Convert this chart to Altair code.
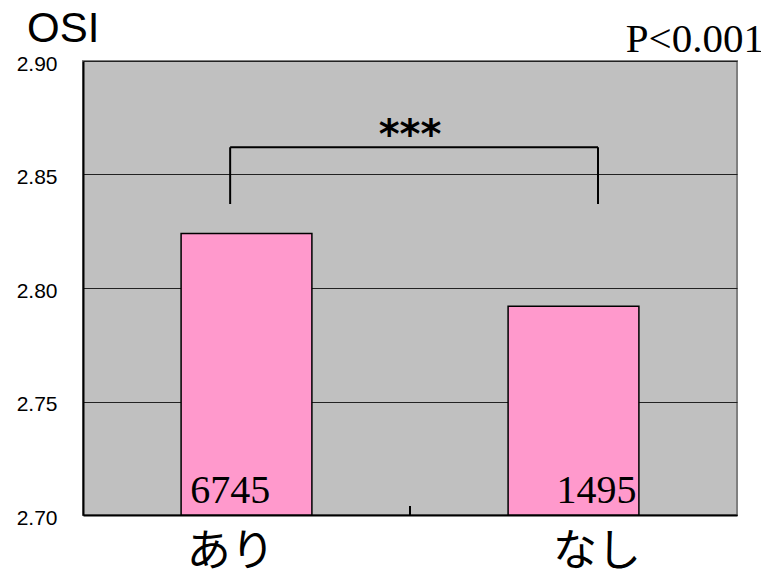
import altair as alt
import pandas as pd

categories = ["あり", "なし"]
means = [2.824, 2.792]
counts = [6745, 1495]
label_pos = [0.45, 1.57]          # where the category / count labels are centred
y_ticks = [2.70, 2.75, 2.80, 2.85, 2.90]
bracket_top = 2.862
bracket_bottom = 2.837
stars = "***"

df = pd.DataFrame({"cat": categories, "mean": means, "n": [str(c) for c in counts],
                   "idx": [0, 1], "lp": label_pos})

W, H = 654, 454
xs = alt.Scale(domain=[0, 2], nice=False, zero=False)
ys = alt.Scale(domain=[2.70, 2.90], nice=False, zero=False)

label_expr = ("datum.value < 1 ? '" + categories[0] + "' : '" + categories[1] + "'")

base = alt.Chart(df)

bars = base.transform_calculate(
    x0="datum.idx + 0.3", x1="datum.idx + 0.7"
).mark_bar(fill="#FF99CC", stroke="black", strokeWidth=1.5).encode(
    x=alt.X("x0:Q", scale=xs, axis=alt.Axis(
        values=label_pos, labelExpr=label_expr, title=None, grid=False, ticks=False,
        domainColor="black", domainWidth=2, labelFontSize=44,
        labelFont="Noto Sans CJK JP", labelColor="black", labelPadding=15,
        labelBaseline="top")),
    x2="x1:Q",
    y=alt.Y("mean:Q", scale=ys, axis=alt.Axis(
        values=y_ticks, format=".2f", title=None, grid=True, gridColor="#222222",
        gridWidth=1, ticks=False, domainColor="black", domainWidth=2,
        labelFontSize=21, labelFont="Liberation Sans", labelColor="black",
        labelPadding=26, labelOffset=3)),
    y2=alt.datum(2.70),
)

count_text = base.transform_calculate(base_y="2.70").mark_text(
    font="Liberation Serif", fontSize=40, baseline="alphabetic", dy=-12, color="black"
).encode(
    x=alt.X("lp:Q", scale=xs),
    y=alt.Y("base_y:Q", scale=ys),
    text="n:N",
)

br = pd.DataFrame({"x": [label_pos[0]], "x2": [1.575], "top": [bracket_top],
                   "bottom": [bracket_bottom]})
brc = alt.Chart(br)
h_line = brc.mark_rule(color="black", strokeWidth=2).encode(
    x=alt.X("x:Q", scale=xs), x2="x2:Q", y=alt.Y("top:Q", scale=ys))
v_left = brc.mark_rule(color="black", strokeWidth=2).encode(
    x=alt.X("x:Q", scale=xs), y=alt.Y("top:Q", scale=ys), y2="bottom:Q")
v_right = brc.mark_rule(color="black", strokeWidth=2).encode(
    x=alt.X("x2:Q", scale=xs), y=alt.Y("top:Q", scale=ys), y2="bottom:Q")

star_df = pd.DataFrame({"x": [1.0], "y": [2.869], "t": [stars]})
star_text = alt.Chart(star_df).mark_text(
    font="DejaVu Sans", fontSize=40, fontWeight="bold", baseline="middle", dy=5,
    color="black"
).encode(x=alt.X("x:Q", scale=xs), y=alt.Y("y:Q", scale=ys), text="t:N")

mid_tick_df = pd.DataFrame({"x": [1.0], "y": [2.70], "y2": [2.704]})
mid_tick = alt.Chart(mid_tick_df).mark_rule(color="black", strokeWidth=2).encode(
    x=alt.X("x:Q", scale=xs), y=alt.Y("y:Q", scale=ys), y2="y2:Q")

osi = alt.Chart(pd.DataFrame({"t": ["OSI"]})).mark_text(
    font="Liberation Sans", fontSize=42, align="left", baseline="alphabetic",
    color="black"
).encode(x=alt.value(-56), y=alt.value(-19), text="t:N")

pval = alt.Chart(pd.DataFrame({"t": ["P<0.001"]})).mark_text(
    font="Liberation Serif", fontSize=41, align="right", baseline="alphabetic",
    color="black"
).encode(x=alt.value(W + 27), y=alt.value(-9), text="t:N")

chart = alt.layer(
    bars, count_text, h_line, v_left, v_right, star_text, mid_tick, osi, pval
).properties(
    width=W, height=H,
    autosize=alt.AutoSizeParams(type="none"),
    padding={"left": 75, "top": 53, "right": 24, "bottom": 60},
).configure(
    background="white"
).configure_view(
    fill="#C0C0C0", stroke="#808080", strokeWidth=2
)

chart.save("out.html", embed_options={"renderer": "svg", "actions": False})
